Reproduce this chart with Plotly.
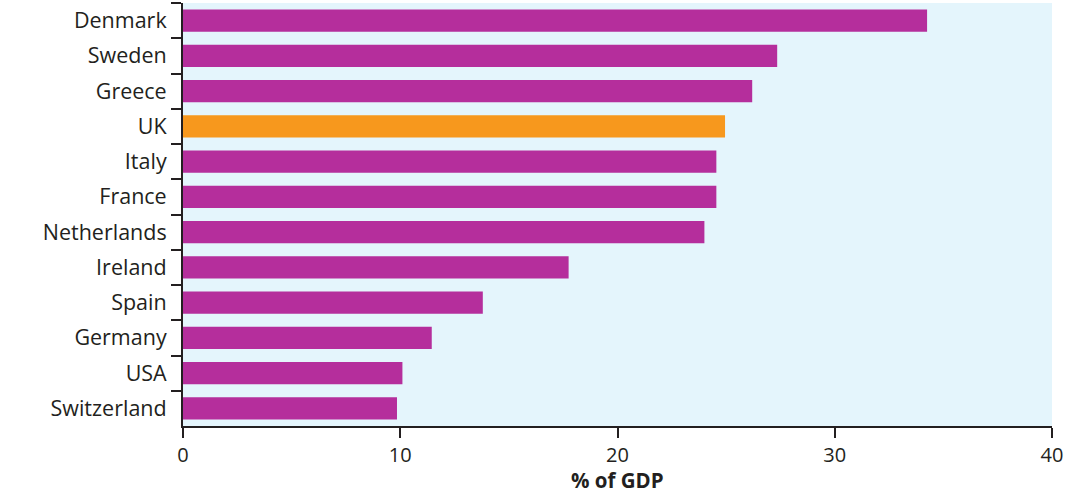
import plotly.graph_objects as go

countries = ["Denmark", "Sweden", "Greece", "UK", "Italy", "France", "Netherlands",
             "Ireland", "Spain", "Germany", "USA", "Switzerland"]
values = [34.25, 27.35, 26.2, 24.95, 24.55, 24.55, 24.0, 17.75, 13.8, 11.45, 10.1, 9.85]
highlight = "UK"
x_title = "% of GDP"

purple = "#B52E9C"
orange = "#F7981D"
colors = [orange if c == highlight else purple for c in countries]

fig = go.Figure(go.Bar(
    x=values, y=countries, orientation="h",
    marker=dict(color=colors, line=dict(width=0)),
    hoverinfo="x+y",
))

fig.update_layout(
    width=1082, height=496,
    margin=dict(l=183, r=30, t=3, b=70),
    paper_bgcolor="white",
    plot_bgcolor="#E4F5FC",
    bargap=0.375,
    showlegend=False,
    font=dict(family="Open Sans, sans-serif", size=20, color="#231F20"),
    annotations=[dict(
        text="<b>" + x_title + "</b>", xref="paper", yref="paper",
        x=0.5, y=-0.128, xanchor="center", yanchor="middle",
        showarrow=False, font=dict(size=20.5, color="#231F20"),
    )],
)
fig.update_xaxes(
    range=[0, 40], tickvals=[0, 10, 20, 30, 40],
    showgrid=False, zeroline=False,
    showline=True, linecolor="#231F20", linewidth=2,
    ticks="outside", ticklen=10, tickwidth=1.5, tickcolor="#231F20",
    tickfont=dict(size=20),
    automargin=False,
    fixedrange=True,
)
fig.update_yaxes(
    autorange="reversed", categoryorder="array", categoryarray=countries,
    showgrid=False, zeroline=False,
    showline=True, linecolor="#231F20", linewidth=2,
    ticks="outside", ticklen=10, tickwidth=1.5, tickcolor="#231F20",
    tickson="boundaries", ticklabelstandoff=10,
    tickfont=dict(size=21.5),
    automargin=False,
    fixedrange=True,
)

fig.write_html("out.html")
